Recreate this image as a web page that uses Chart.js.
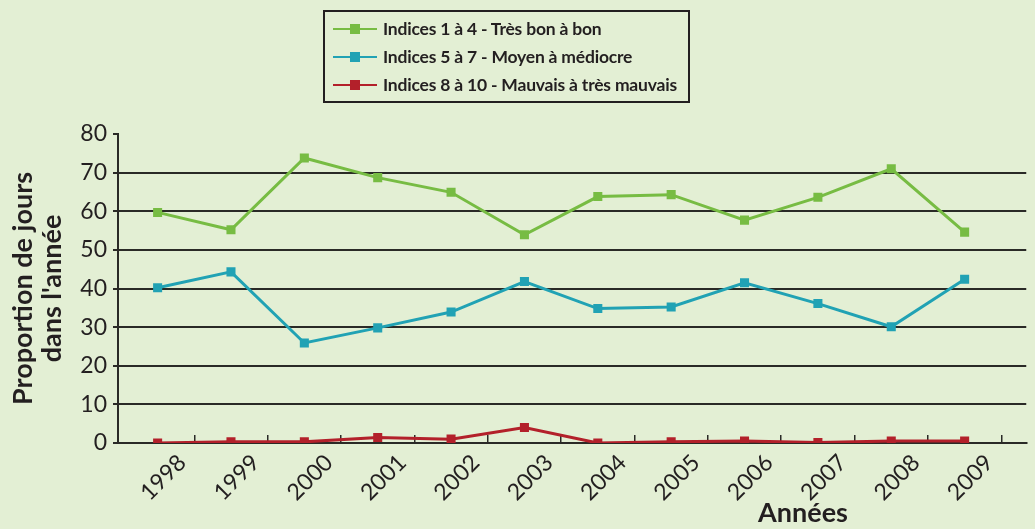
<!DOCTYPE html>
<html>
<head>
<meta charset="utf-8">
<script src="https://cdn.jsdelivr.net/npm/chart.js@4"></script>
<style>
  html, body { margin:0; padding:0; background:#e3efd4; }
  #wrap { position:relative; width:1035px; height:529px; overflow:hidden; font-family:Lato, "Open Sans", sans-serif; color:#231f20; }
  canvas { position:absolute; left:0; top:0; }
  #legend { position:absolute; left:323px; top:10px; width:363px; height:89px; border:2px solid #231f20; }
  .li { position:absolute; left:8px; height:20px; }
  .li .ln { position:absolute; left:0; top:9px; width:44px; height:2px; }
  .li .mk { position:absolute; left:17px; top:5px; width:10px; height:10px; }
  .li .tx { position:absolute; left:50px; top:0; white-space:nowrap; font-weight:bold; font-size:17.5px; line-height:20px; letter-spacing:-0.2px; }
  #xtitle { position:absolute; left:703px; width:200px; text-align:center; top:496px; font-weight:bold; font-size:27px; line-height:32px; }
</style>
</head>
<body>
<div id="wrap">
  <canvas id="c" width="1035" height="529"></canvas>
  <div id="legend"></div>
  <div id="xtitle">Années</div>
</div>
<script>
const years = [1998, 1999, 2000, 2001, 2002, 2003, 2004, 2005, 2006, 2007, 2008, 2009];
const seriesNames = ["Indices 1 à 4 - Très bon à bon", "Indices 5 à 7 - Moyen à médiocre", "Indices 8 à 10 - Mauvais à très mauvais"];
const goodValues = [59.7, 55.2, 73.8, 68.7, 64.9, 53.9, 63.8, 64.3, 57.7, 63.6, 71.0, 54.6];
const mediumValues = [40.2, 44.3, 25.9, 29.8, 33.9, 41.8, 34.8, 35.2, 41.5, 36.1, 30.1, 42.4];
const badValues = [0.0, 0.3, 0.3, 1.4, 1.0, 4.0, 0.0, 0.3, 0.5, 0.1, 0.5, 0.5];
const yTicks = [0, 10, 20, 30, 40, 50, 60, 70, 80];
const yTitle = ["Proportion de jours", "dans l'année"];
const colors = ["#77bc43", "#21a2b4", "#b3202a"];

const seriesValues = [goodValues, mediumValues, badValues];
const datasets = seriesValues.map((vals, i) => ({
  label: seriesNames[i],
  data: years.map((y, j) => ({ x: y, y: vals[j] })),
  borderColor: colors[i],
  backgroundColor: colors[i],
  borderWidth: 3,
  pointStyle: 'rect',
  pointRadius: 6.4,
  pointBorderWidth: 0,
  pointHoverRadius: 6.4,
  tension: 0
}));

// HTML legend from series names
const leg = document.getElementById('legend');
seriesNames.forEach((name, i) => {
  const d = document.createElement('div');
  d.className = 'li';
  d.style.top = (7 + i * 28) + 'px';
  d.innerHTML = '<div class="ln" style="background:' + colors[i] + '"></div><div class="mk" style="background:' + colors[i] + '"></div><div class="tx">' + name + '</div>';
  leg.appendChild(d);
});

const dark = '#2a2a26';
new Chart(document.getElementById('c'), {
  type: 'line',
  data: { datasets },
  options: {
    responsive: false,
    animation: false,
    events: [],
    layout: { padding: { top: 134, right: 0, left: 0, bottom: 0 } },
    plugins: { legend: { display: false }, tooltip: { enabled: false } },
    scales: {
      x: {
        type: 'linear',
        min: years[0] - 0.54,
        max: years[years.length - 1] + 0.84,
        afterBuildTicks: s => { s.ticks = years.map(y => ({ value: y + 0.5 })); },
        afterFit: s => { s.height = 86; },
        ticks: {
          autoSkip: false,
          minRotation: 45,
          maxRotation: 45,
          font: { family: 'Lato', size: 23 },
          color: '#231f20',
          padding: 14,
          labelOffset: -12,
          callback: v => String(Math.round(v - 0.5))
        },
        grid: { drawOnChartArea: false, tickLength: -8, color: dark, lineWidth: 1.5 },
        border: { display: true, color: dark, width: 2 }
      },
      y: {
        min: 0,
        max: 80,
        afterBuildTicks: s => { s.ticks = yTicks.map(v => ({ value: v })); },
        afterFit: s => { s.width = 118; },
        ticks: { font: { family: 'Lato', size: 23 }, color: '#231f20', padding: 6 },
        grid: {
          color: c => (c.tick && c.tick.value === 80) ? 'rgba(0,0,0,0)' : dark,
          lineWidth: 2,
          tickLength: 5,
          tickColor: dark
        },
        border: { display: true, color: dark, width: 2 },
        title: { display: true, text: yTitle, font: { family: 'Lato', size: 27, weight: 'bold', lineHeight: 1.1 }, color: '#231f20', padding: { top: 8, bottom: 2 } }
      }
    }
  }
});
</script>
</body>
</html>
